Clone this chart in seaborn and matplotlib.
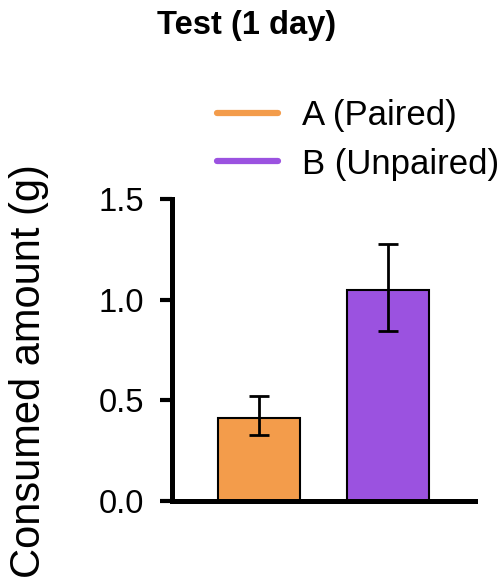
import matplotlib
matplotlib.use("Agg")
import matplotlib.pyplot as plt
from matplotlib.lines import Line2D
import seaborn as sns
import pandas as pd
import numpy as np

groups = ["A (Paired)", "B (Unpaired)"]
means = [0.41, 1.05]
err_low = [0.33, 0.845]
err_high = [0.52, 1.275]
colors = ["#F39C4B", "#9B52E0"]
yticks = [0.0, 0.5, 1.0, 1.5]
title = "Test (1 day)"
ylabel = "Consumed amount (g)"

sns.set_theme(style="ticks")
plt.rcParams['font.family'] = ['Liberation Sans', 'DejaVu Sans']
plt.rcParams['text.color'] = 'black'
plt.rcParams['axes.labelcolor'] = 'black'
plt.rcParams['ytick.color'] = 'black'
plt.rcParams['xtick.color'] = 'black'

df = pd.DataFrame({"group": groups, "value": means})

fig = plt.figure(figsize=(5.01, 5.88), dpi=100)
ax = fig.add_axes([0.3433, 0.148, 0.605, 0.5136])

sns.barplot(data=df, x="group", y="value", hue="group", palette=colors,
            saturation=1, width=0.636, edgecolor="black", linewidth=1.5,
            legend=False, ax=ax, errorbar=None)

m = np.array(means)
yerr = np.vstack([m - np.array(err_low), np.array(err_high) - m])
ax.errorbar(np.arange(len(groups)), m, yerr=yerr, fmt="none", ecolor="black",
            elinewidth=2, capsize=7.2, capthick=2, zorder=5)

ax.set_xlim(-0.674, 1.674)
ax.set_ylim(0, 1.5)
ax.set_yticks(yticks)
ax.set_yticklabels([f"{t:.1f}" for t in yticks])
ax.set_xticks([])
ax.set_xlabel("")
ax.set_ylabel(ylabel, fontsize=30, color="black")
ax.yaxis.set_label_coords(-0.405, 0.43)
ax.tick_params(axis="y", labelsize=23.5, width=3, length=9, pad=11, color="black",
               labelcolor="black")
for s in ["top", "right"]:
    ax.spines[s].set_visible(False)
for s in ["left", "bottom"]:
    ax.spines[s].set_linewidth(3.6)
    ax.spines[s].set_color("black")

fig.text(0.493, 0.956, title, ha="center", va="center", fontsize=23.5,
         fontweight="bold", color="black")

handles = [Line2D([0], [0], color=c, lw=4.5) for c in colors]
fig.legend(handles, groups, loc="upper left", bbox_to_anchor=(0.433, 0.831),
           frameon=False, fontsize=25, handlelength=1.76, handletextpad=0.69,
           labelspacing=0.44, borderaxespad=0, borderpad=0)

fig.savefig("out.png", dpi=100)
